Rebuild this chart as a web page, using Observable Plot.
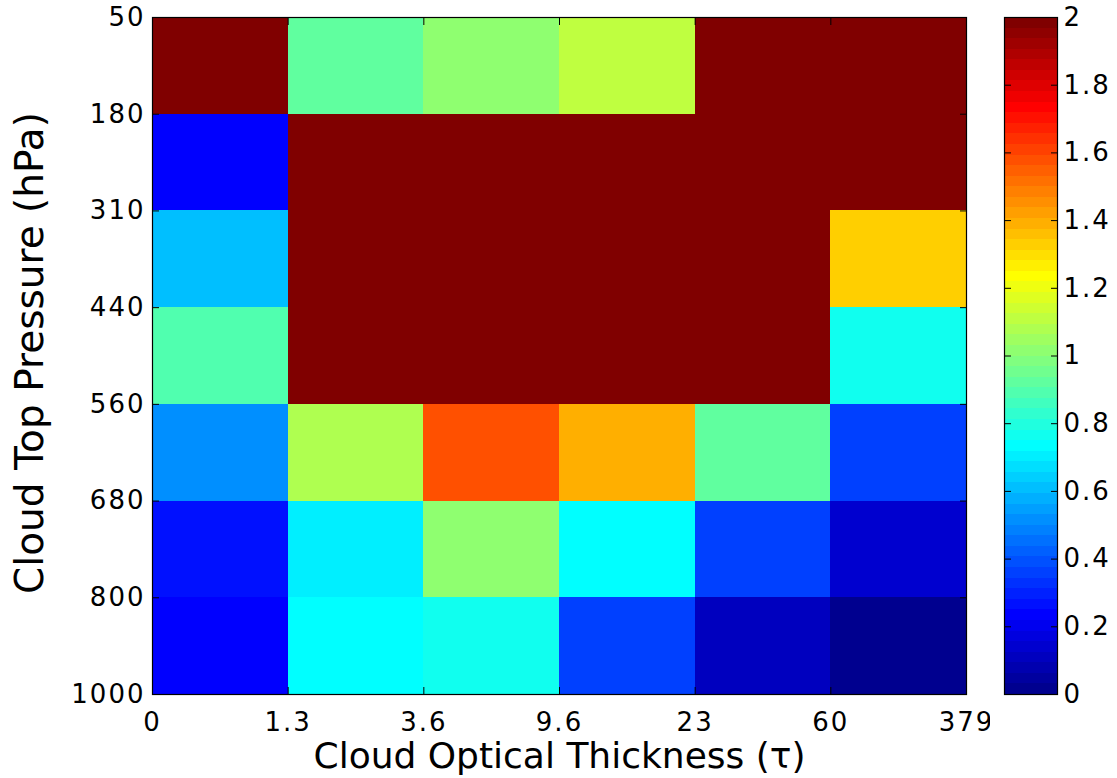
<!DOCTYPE html>
<html><head><meta charset="utf-8">
<script src="https://cdn.jsdelivr.net/npm/d3@7"></script>
<script src="https://cdn.jsdelivr.net/npm/@observablehq/plot@0.6"></script>
<style>
body{margin:0;background:#fff;width:1117px;height:778px;position:relative;overflow:hidden;font-family:"DejaVu Sans";}
#main{position:absolute;left:0;top:0}
#cbar{position:absolute;left:990px;top:0}
</style></head><body>
<div id="main"></div><div id="cbar"></div>
<script>
// ---- data ----
const tauLabels = ["0", "1.3", "3.6", "9.6", "23", "60", "379"];          // x bin edges
const pressureLabels = ["50", "180", "310", "440", "560", "680", "800", "1000"]; // y bin edges (top→bottom)
const p50_180   = [2.0, 0.92, 1.02, 1.12, 2.0, 2.0];
const p180_310  = [0.23, 2.0, 2.0, 2.0, 2.0, 2.0];
const p310_440  = [0.62, 2.0, 2.0, 2.0, 2.0, 1.33];
const p440_560  = [0.90, 2.0, 2.0, 2.0, 2.0, 0.78];
const p560_680  = [0.50, 1.07, 1.58, 1.40, 0.92, 0.35];
const p680_800  = [0.28, 0.69, 1.02, 0.72, 0.35, 0.125];
const p800_1000 = [0.23, 0.72, 0.77, 0.35, 0.095, 0.02];
const colorTicks = [0, 0.2, 0.4, 0.6, 0.8, 1, 1.2, 1.4, 1.6, 1.8, 2];
const xLabel = "Cloud Optical Thickness (τ)";
const yLabel = "Cloud Top Pressure (hPa)";

// ---- MATLAB jet(64) colormap ----
function jet(m) {
  const n = Math.ceil(m / 4);
  const u = [];
  for (let i = 1; i <= n; i++) u.push(i / n);
  for (let i = 1; i < n; i++) u.push(1);
  for (let i = n; i >= 1; i--) u.push(i / n);
  const off = Math.ceil(n / 2) - (m % 4 === 1 ? 1 : 0);
  const J = Array.from({length: m}, () => [0, 0, 0]);
  u.forEach((v, k) => {
    const g = off + k + 1, r = g + n, b = g - n;
    if (r <= m) J[r - 1][0] = v;
    if (g <= m) J[g - 1][1] = v;
    if (b >= 1) J[b - 1][2] = v;
  });
  return J.map(([r, g, b]) => d3.rgb(r * 255, g * 255, b * 255).formatHex());
}
const jet64 = jet(64);
const colorScale = {type: "quantize", domain: [0, 2], range: jet64};

const rows = [p50_180, p180_310, p310_440, p440_560, p560_680, p680_800, p800_1000];
const cells = rows.flatMap((row, i) => row.map((value, j) => ({x1: j, x2: j + 1, y1: i, y2: i + 1, value})));
const xIdx = tauLabels.map((_, i) => i);
const yIdx = pressureLabels.map((_, i) => i);

const font = "DejaVu Sans";

const main = Plot.plot({
  width: 1000, height: 778,
  marginLeft: 152, marginRight: 34, marginTop: 17, marginBottom: 84,
  style: {fontFamily: font, fontSize: "26px", color: "black", background: "white", overflow: "visible"},
  x: {domain: [0, 6]},
  y: {domain: [7, 0]},
  color: colorScale,
  marks: [
    Plot.rect(cells, {x1: "x1", x2: "x2", y1: "y1", y2: "y2", fill: "value", shapeRendering: "crispEdges"}),
    Plot.frame({stroke: "black", strokeWidth: 1.2}),
    Plot.axisX({anchor: "bottom", ticks: xIdx, tickFormat: i => tauLabels[i], tickSize: -7, tickPadding: 25, label: null, fontSize: 26}),
    Plot.axisX({anchor: "top", ticks: xIdx, tickFormat: () => "", tickSize: -7, label: null}),
    Plot.axisY({anchor: "left", ticks: yIdx, tickFormat: i => pressureLabels[i], tickSize: -7, tickPadding: 14, label: null, fontSize: 26}),
    Plot.axisY({anchor: "right", ticks: yIdx, tickFormat: () => "", tickSize: -7, label: null}),
    Plot.text([xLabel], {frameAnchor: "bottom", textAnchor: "middle", lineAnchor: "middle", dx: 0, dy: 62, fontSize: 36, fontFamily: font, fill: "black"}),
    Plot.text([yLabel], {frameAnchor: "left", textAnchor: "middle", lineAnchor: "middle", dx: -122, dy: -3, rotate: -90, fontSize: 39, fontFamily: font, fill: "black"})
  ]
});
document.getElementById("main").append(main);

const bins = jet64.map((_, i) => ({y1: i * 2 / 64, y2: (i + 1) * 2 / 64, v: (i + 0.5) * 2 / 64}));
const cbar = Plot.plot({
  width: 127, height: 778,
  marginLeft: 14, marginRight: 60, marginTop: 17, marginBottom: 84,
  style: {fontFamily: font, fontSize: "26px", color: "black", background: "white", overflow: "visible"},
  x: {domain: [0, 1], axis: null},
  y: {domain: [0, 2]},
  color: colorScale,
  marks: [
    Plot.rect(bins, {x1: 0, x2: 1, y1: "y1", y2: "y2", fill: "v", shapeRendering: "crispEdges"}),
    Plot.frame({stroke: "black", strokeWidth: 1.2}),
    Plot.axisY({anchor: "right", ticks: colorTicks, tickFormat: d => String(+d.toFixed(1)), tickSize: -7, tickPadding: 13, label: null, fontSize: 26}),
    Plot.axisY({anchor: "left", ticks: colorTicks, tickFormat: () => "", tickSize: -7, label: null})
  ]
});
document.getElementById("cbar").append(cbar);

for (const svg of [main, cbar]) {
  d3.select(svg).selectAll('g[aria-label$="tick label"]').style("letter-spacing", "2px");
}
</script>
</body></html>
